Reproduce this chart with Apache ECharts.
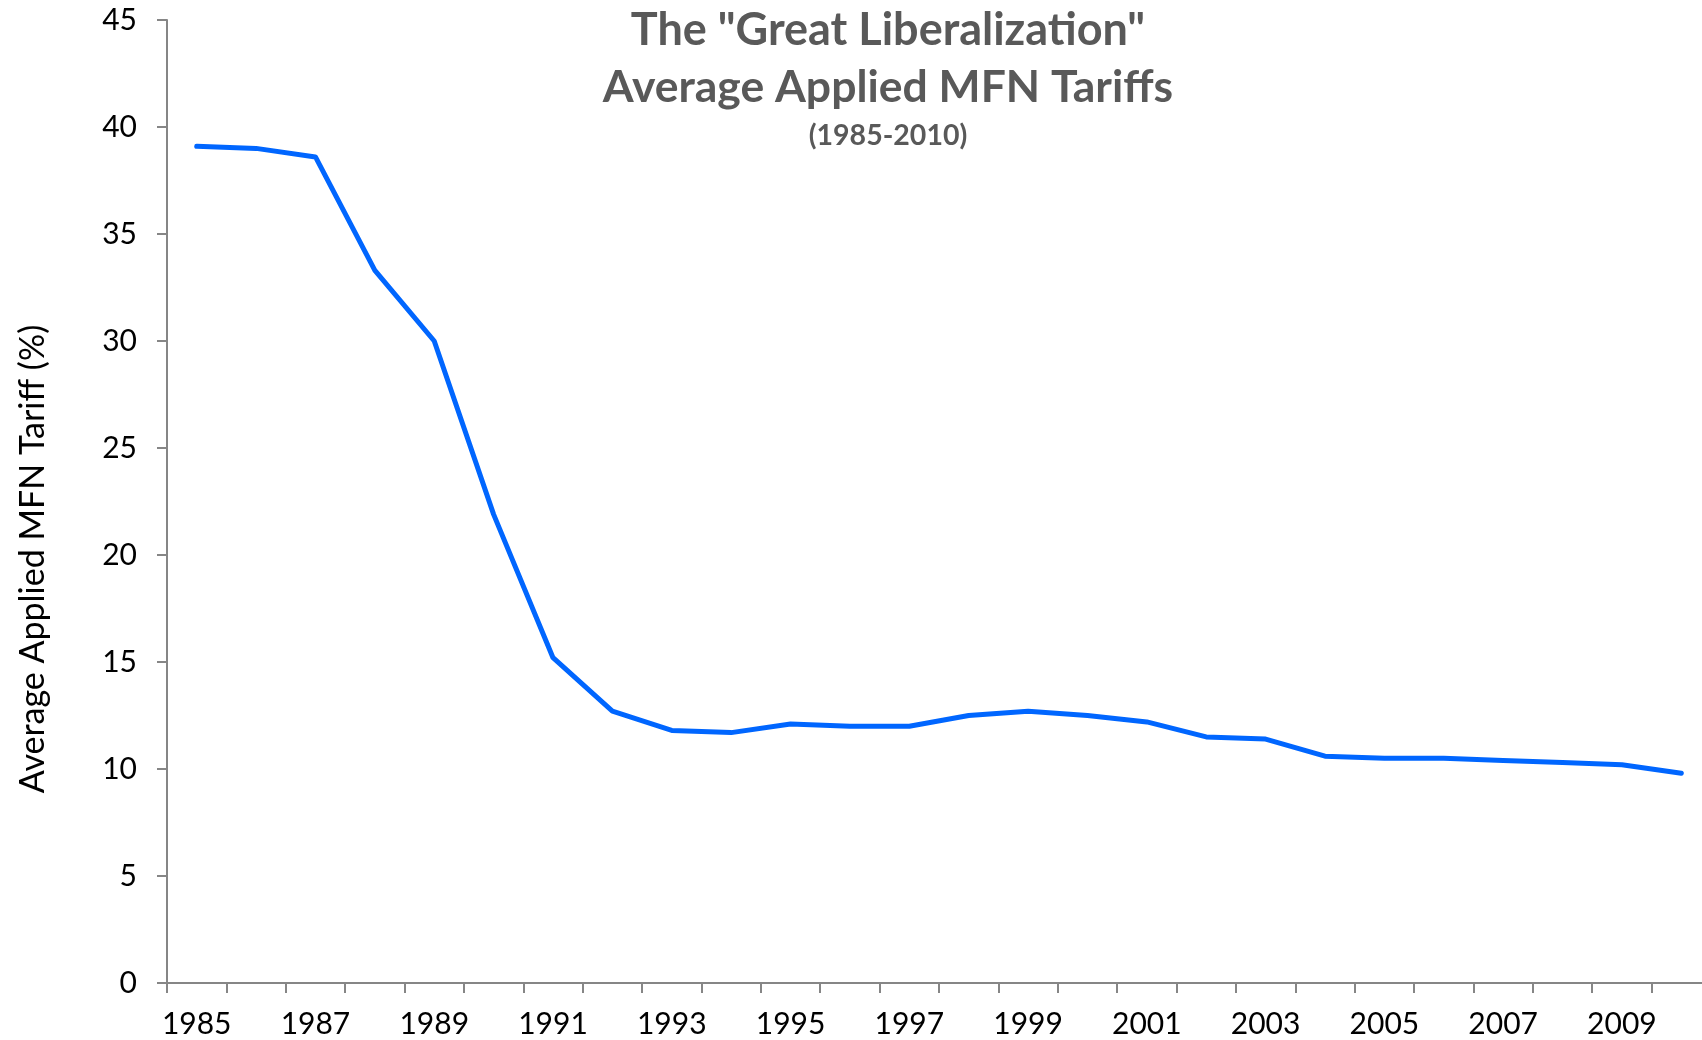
<!DOCTYPE html>
<html>
<head>
<meta charset="utf-8">
<script src="https://cdn.jsdelivr.net/npm/echarts@6/dist/echarts.min.js"></script>
<style>
html,body{margin:0;padding:0;background:#fff;}
#chart{width:1702px;height:1040px;}
</style>
</head>
<body>
<div id="chart"></div>
<script>
const years = ['1985','1986','1987','1988','1989','1990','1991','1992','1993','1994','1995','1996','1997','1998','1999','2000','2001','2002','2003','2004','2005','2006','2007','2008','2009','2010'];
const tariffs = [39.1,39.0,38.6,33.3,30.0,21.9,15.2,12.7,11.8,11.7,12.1,12.0,12.0,12.5,12.7,12.5,12.2,11.5,11.4,10.6,10.5,10.5,10.4,10.3,10.2,9.8];
const titleLines = ['The "Great Liberalization"', 'Average Applied MFN Tariffs', '(1985-2010)'];
const yAxisName = 'Average Applied MFN Tariff (%)';

const labelFont = "Lato, sans-serif";
const titleFont = "Lato, 'Open Sans', sans-serif";

const chart = echarts.init(document.getElementById('chart'));
chart.setOption({
  animation: false,
  backgroundColor: '#ffffff',
  title: [
    {text: titleLines[0], left: 883, top: 3, textAlign: 'center',
     textStyle: {fontFamily: titleFont, fontWeight: 'bold', fontSize: 45, color: '#595959'}},
    {text: titleLines[1], left: 883, top: 60, textAlign: 'center',
     textStyle: {fontFamily: titleFont, fontWeight: 'bold', fontSize: 44.5, color: '#595959'}},
    {text: titleLines[2], left: 883, top: 116, textAlign: 'center',
     textStyle: {fontFamily: titleFont, fontWeight: 'bold', fontSize: 28.5, color: '#595959'}}
  ],
  graphic: [{
    type: 'text',
    x: 33, y: 559,
    rotation: Math.PI / 2,
    style: {text: yAxisName, fontFamily: labelFont, fontSize: 34, fill: '#000000',
            align: 'center', verticalAlign: 'middle'}
  }],
  grid: {left: 167, top: 20, width: 1544, height: 963, containLabel: false, outerBoundsMode: 'none'},
  xAxis: {
    type: 'category',
    data: years,
    boundaryGap: true,
    axisLine: {lineStyle: {color: '#868686', width: 2}},
    axisTick: {show: true, interval: 0, length: 10, lineStyle: {color: '#868686', width: 2}},
    axisLabel: {interval: 1, margin: 26, fontFamily: labelFont, fontSize: 30, color: '#000000'},
    splitLine: {show: false}
  },
  yAxis: {
    type: 'value',
    min: 0, max: 45, interval: 5,
    axisLine: {show: true, lineStyle: {color: '#868686', width: 2}},
    axisTick: {show: true, length: 10, lineStyle: {color: '#868686', width: 2}},
    axisLabel: {margin: 30, fontFamily: labelFont, fontSize: 30, color: '#000000'},
    splitLine: {show: false}
  },
  series: [{
    type: 'line',
    data: tariffs,
    symbol: 'none',
    lineStyle: {color: '#0066FF', width: 5, cap: 'round', join: 'round'}
  }]
});
</script>
</body>
</html>
